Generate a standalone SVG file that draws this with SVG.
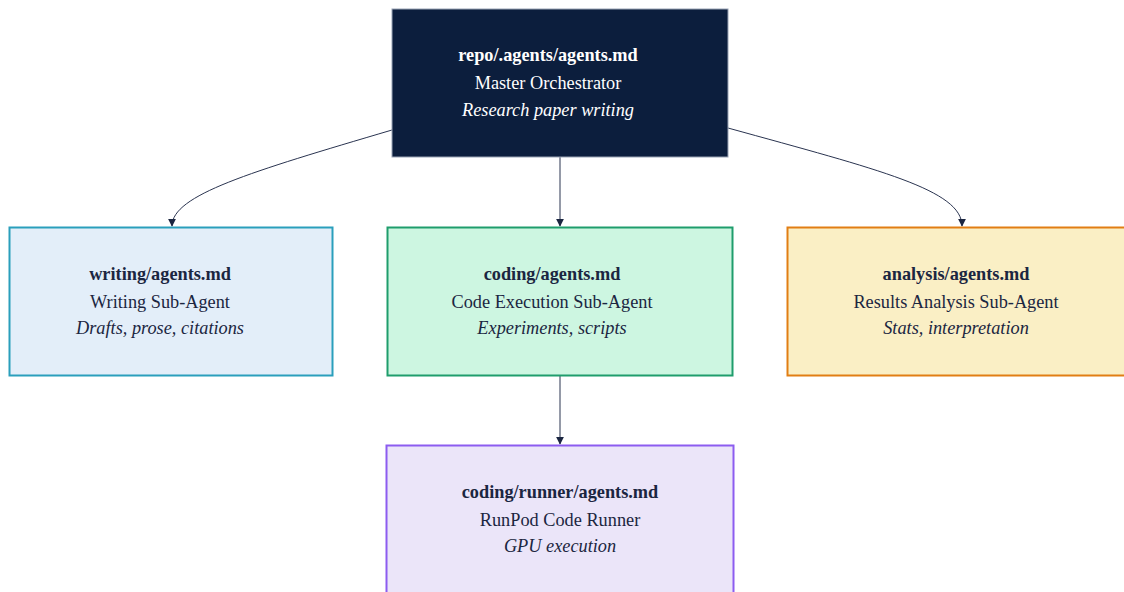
<svg xmlns="http://www.w3.org/2000/svg" width="1124" height="592" viewBox="0 0 1124 592">
<style>
text{font-family:"Liberation Serif","Times New Roman",serif;font-size:18.3px;text-anchor:middle;fill:#1b2641}
.t{font-weight:bold}
.i{font-style:italic}
.w text{fill:#ffffff}
.edge{fill:none;stroke:#2a3450;stroke-width:1}
</style>
<defs>
<marker id="arr" viewBox="0 0 10 10" refX="9" refY="5" markerWidth="8" markerHeight="8" orient="auto" markerUnits="userSpaceOnUse">
<path d="M0,0 L10,5 L0,10 z" fill="#1b2641"/>
</marker>
</defs>
<rect width="1124" height="592" fill="#ffffff"/>
<g id="connectors">
<path class="edge" d="M392,130 C250,172 172,195 172,226" marker-end="url(#arr)"/>
<path class="edge" d="M560,157 L560,226" marker-end="url(#arr)"/>
<path class="edge" d="M728,128 C880,170 962,190 962,226" marker-end="url(#arr)"/>
<path class="edge" d="M560,375 L560,444" marker-end="url(#arr)"/>
</g>
<g id="master" class="w">
<rect x="392" y="9" width="336" height="148" fill="#0c1e3d" stroke="#9aa3b5" stroke-width="1"/>
<text class="t" x="548" y="61">repo/.agents/agents.md</text>
<text x="548" y="89">Master Orchestrator</text>
<text class="i" x="548" y="116">Research paper writing</text>
</g>
<g id="writing">
<rect x="9.5" y="227.5" width="323" height="148" fill="#e3eef9" stroke="#2a9fbc" stroke-width="2"/>
<text class="t" x="160" y="280">writing/agents.md</text>
<text x="160" y="308">Writing Sub-Agent</text>
<text class="i" x="160" y="334">Drafts, prose, citations</text>
</g>
<g id="coding">
<rect x="387.5" y="227.5" width="345" height="148" fill="#cdf6e1" stroke="#1f9d6c" stroke-width="2"/>
<text class="t" x="552" y="280">coding/agents.md</text>
<text x="552" y="308">Code Execution Sub-Agent</text>
<text class="i" x="552" y="334">Experiments, scripts</text>
</g>
<g id="analysis">
<rect x="787.5" y="227.5" width="345" height="148" fill="#faefc5" stroke="#e17e14" stroke-width="2"/>
<text class="t" x="956" y="280">analysis/agents.md</text>
<text x="956" y="308">Results Analysis Sub-Agent</text>
<text class="i" x="956" y="334">Stats, interpretation</text>
</g>
<g id="runner">
<rect x="386.5" y="445.5" width="347" height="160" fill="#ebe5f9" stroke="#8c5cf0" stroke-width="2"/>
<text class="t" x="560" y="498">coding/runner/agents.md</text>
<text x="560" y="526">RunPod Code Runner</text>
<text class="i" x="560" y="552">GPU execution</text>
</g>
</svg>
